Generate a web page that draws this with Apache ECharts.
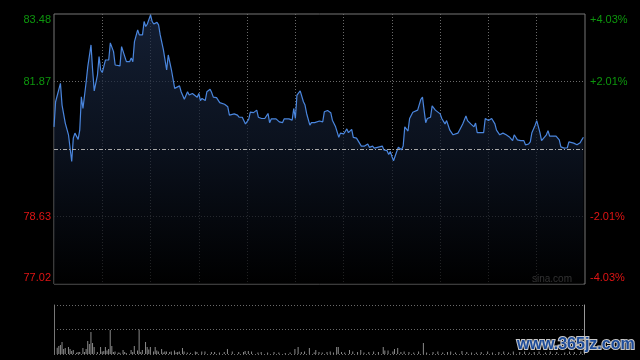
<!DOCTYPE html>
<html><head><meta charset="utf-8">
<script src="https://cdn.jsdelivr.net/npm/echarts@6/dist/echarts.min.js"></script>
<style>html,body{margin:0;padding:0;background:#000;}#c{width:640px;height:360px;}</style>
</head><body><div id="c"></div>
<script>
// minute of the trading session (0..330) and price
const minutes = [
0,1,2,4,5,7,8,9,11,12,
13,15,16,17,18,20,21,23,24,25,
27,28,29,30,32,34,35,37,38,39,
41,42,44,45,47,48,49,50,51,52,
53,55,56,57,58,60,61,62,64,65,
66,68,70,71,73,75,76,78,79,81,
83,84,86,87,89,90,91,92,94,95,
97,98,99,101,103,104,106,108,109,110,
112,114,115,117,119,121,122,124,126,127,
129,131,133,134,135,138,140,141,142,143,
146,148,149,150,151,152,153,155,156,157,
159,160,162,163,165,167,168,170,172,173,
175,177,178,180,182,183,185,186,188,191,
192,193,195,196,198,199,201,202,204,205,
207,208,209,210,211,212,213,214,216,217,
218,220,221,223,224,226,227,228,229,230,
231,232,234,235,237,238,240,241,243,244,
246,248,249,251,252,254,256,257,259,260,
261,262,263,265,267,268,270,271,272,274,
275,277,279,281,283,284,285,286,288,289,
290,292,293,295,296,297,299,300,301,302,
303,304,306,307,308,310,311,312,314,315,
317,319,320,321,323,324,325,327,328,329];
const prices = [
80.78,81.38,81.38,81.82,81.30,80.87,80.87,80.59,79.95,80.51,
80.63,80.48,80.70,81.50,81.22,81.86,82.22,82.74,82.14,81.64,
82.02,82.46,82.14,82.08,82.38,82.38,82.79,82.58,82.26,82.28,
82.24,82.70,82.46,82.34,82.34,82.43,82.34,82.82,82.78,83.10,
82.98,82.98,83.30,83.18,83.24,83.46,83.30,83.24,83.28,83.22,
82.98,82.62,82.14,82.50,82.14,81.70,81.74,81.76,81.62,81.44,
81.62,81.54,81.58,81.57,81.49,81.58,81.41,81.46,81.41,81.62,
81.68,81.60,81.49,81.48,81.36,81.36,81.32,81.26,81.06,81.04,
81.09,81.06,81.01,81.01,80.85,80.96,81.13,81.12,81.18,81.01,
80.98,80.98,81.10,80.88,80.97,80.97,80.90,80.93,80.88,80.97,
80.97,80.94,81.22,80.98,81.54,81.52,81.64,81.38,81.30,81.10,
80.82,80.88,80.88,80.84,80.92,80.90,81.14,81.17,81.12,80.94,
80.78,80.53,80.63,80.61,80.73,80.64,80.72,80.53,80.51,80.32,
80.29,80.32,80.37,80.29,80.32,80.27,80.29,80.27,80.32,80.23,
80.21,80.12,80.19,80.07,79.97,80.00,80.19,80.29,80.23,80.32,
80.78,80.68,80.98,81.13,81.14,81.18,81.22,81.44,81.49,81.18,
80.88,80.98,81.01,81.28,81.18,81.22,81.09,80.98,80.85,80.93,
80.70,80.59,80.63,80.63,80.70,80.85,81.04,80.93,80.85,80.88,
80.78,80.87,80.64,80.64,80.64,80.98,80.93,80.94,80.98,80.85,
80.70,80.59,80.63,80.59,80.54,80.51,80.45,80.59,80.47,80.48,
80.45,80.45,80.35,80.37,80.42,80.64,80.82,80.93,80.94,80.64,
80.45,80.44,80.59,80.69,80.56,80.56,80.53,80.56,80.47,80.30,
80.27,80.28,80.42,80.44,80.39,80.37,80.35,80.40,80.47,80.53];
const volMinutes = [
2,3,4,5,6,7,9,10,11,12,
14,15,16,18,19,20,21,22,23,24,
25,27,29,30,31,32,33,34,35,36,
37,38,40,41,43,44,45,48,49,50,
52,53,54,55,57,58,59,60,62,63,
64,65,67,68,69,70,72,73,75,76,
77,78,80,81,83,85,88,89,92,94,
98,100,103,106,108,111,115,118,119,121,
123,127,129,133,137,140,144,147,150,152,
154,156,159,162,163,165,167,170,172,174,
176,177,179,181,184,186,189,191,193,196,
199,202,205,206,208,211,212,214,216,218,
221,224,227,230,232,236,239,242,245,247,
250,254,257,260,263,266,270,273,277,280,
283,286,290,293,296,299,302,306,309,313,
318,321,324,328];
const volumes = [
26,33,37,49,20,24,29,20,12,16,
5,8,8,24,8,20,53,41,90,45,
29,8,29,10,12,29,14,20,98,33,
8,10,6,5,16,8,4,16,8,33,
14,100,8,16,49,29,18,29,10,29,
14,10,20,6,10,10,8,10,14,6,
8,10,24,10,6,5,10,8,10,10,
8,8,6,8,20,10,8,8,12,12,
10,6,8,6,8,6,4,6,20,29,
8,10,24,6,16,8,6,8,10,6,
29,29,8,6,16,10,8,16,6,8,
10,8,29,14,14,10,20,24,8,10,
8,6,10,45,6,8,10,6,8,10,
6,12,8,6,6,8,10,6,8,10,
6,10,8,10,6,8,10,6,10,8,
6,10,8,10];
const prevClose = 80.25;
const priceTicks = [77.02, 78.635, 80.25, 81.865, 83.48];
const priceLabels = ['77.02', '78.63', '80.25', '81.87', '83.48'];
const pctLabels = ['-4.03%', '-2.01%', '0.00%', '+2.01%', '+4.03%'];
const sessionMinutes = 330;
const volMax = 200;

const GREEN = '#0d960d', RED = '#e01414', GRID = '#6a6a6a';
const labelTicks = priceTicks.filter(v => v !== prevClose);
function idxOf(v) {
  let best = 0;
  priceTicks.forEach((t, i) => { if (Math.abs(t - v) < Math.abs(priceTicks[best] - v)) best = i; });
  return best;
}
function makeFormatter(labels) {
  return function (v) {
    const i = idxOf(v);
    const key = i === 0 ? 'rb' : (i === priceTicks.length - 1 ? 'gt' : (i < 2 ? 'r' : 'g'));
    return '{' + key + '|' + labels[i] + '}';
  };
}
const rich = {
  gt: { color: GREEN, padding: [12, 0, 0, 0], fontSize: 11, fontFamily: 'Liberation Sans' },
  g: { color: GREEN, fontSize: 11, fontFamily: 'Liberation Sans' },
  r: { color: RED, fontSize: 11, fontFamily: 'Liberation Sans' },
  rb: { color: RED, padding: [0, 0, 12, 0], fontSize: 11, fontFamily: 'Liberation Sans' }
};
const hColors = priceTicks.map(v => (v === priceTicks[0] || v === prevClose || v === priceTicks[priceTicks.length - 1]) ? 'rgba(0,0,0,0)' : GRID);
const vColors = [];
for (let m = 0; m <= sessionMinutes; m += 30) vColors.push((m === 0 || m === sessionMinutes) ? 'rgba(0,0,0,0)' : GRID);

const chart = echarts.init(document.getElementById('c'), null, { renderer: 'canvas' });
chart.setOption({
  backgroundColor: '#000',
  animation: false,
  grid: [
    { left: 54, right: 55, top: 14, bottom: 76, show: true, borderColor: '#777', borderWidth: 1, backgroundColor: 'rgba(0,0,0,0)' },
    { left: 54, right: 56, top: 305, bottom: 6 }
  ],
  xAxis: [
    { type: 'value', gridIndex: 0, min: 0, max: sessionMinutes, interval: 30,
      axisLine: { show: false }, axisTick: { show: false }, axisLabel: { show: false },
      splitLine: { show: true, lineStyle: { color: vColors, type: [1, 2], width: 1 } } },
    { type: 'value', gridIndex: 1, min: 0, max: sessionMinutes, interval: 30,
      axisLine: { show: false }, axisTick: { show: false }, axisLabel: { show: false }, splitLine: { show: false } }
  ],
  yAxis: [
    { type: 'value', gridIndex: 0, position: 'left', min: priceTicks[0], max: priceTicks[4],
      axisLine: { show: false },
      axisTick: { show: false, customValues: priceTicks },
      axisLabel: { customValues: labelTicks, margin: 3, formatter: makeFormatter(priceLabels), rich: rich, fontSize: 11 },
      splitLine: { show: true, lineStyle: { color: hColors, type: [1, 2], width: 1 } } },
    { type: 'value', gridIndex: 0, position: 'right', min: priceTicks[0], max: priceTicks[4],
      axisLine: { show: false },
      axisTick: { show: false, customValues: priceTicks },
      axisLabel: { customValues: labelTicks, margin: 5, formatter: makeFormatter(pctLabels), rich: rich, fontSize: 11 },
      splitLine: { show: false } },
    { type: 'value', gridIndex: 1, position: 'left', min: 0, max: volMax, interval: volMax / 2,
      axisLine: { show: true, lineStyle: { color: '#777' } }, axisTick: { show: false }, axisLabel: { show: false },
      splitLine: { show: true, lineStyle: { color: GRID, type: [1, 2] } } },
    { type: 'value', gridIndex: 1, position: 'right', min: 0, max: volMax, interval: volMax / 2,
      axisLine: { show: true, lineStyle: { color: '#999' } }, axisTick: { show: false }, axisLabel: { show: false },
      splitLine: { show: false } }
  ],
  series: [
    { type: 'line', xAxisIndex: 0, yAxisIndex: 0, showSymbol: false, clip: true,
      data: minutes.map((m, i) => [m, prices[i]]),
      lineStyle: { color: '#4a86de', width: 1.2 },
      areaStyle: { origin: 'start', color: new echarts.graphic.LinearGradient(0, 0, 0, 1, [
        { offset: 0, color: '#1c2b48' }, { offset: 0.5, color: '#0f1829' }, { offset: 1, color: '#000000' }]) },
      markLine: { silent: true, symbol: 'none', label: { show: false },
        lineStyle: { color: '#a8a8a8', type: [4, 2, 1, 2], width: 1 },
        data: [{ yAxis: prevClose }] } },
    { type: 'bar', xAxisIndex: 1, yAxisIndex: 2, barWidth: 1,
      itemStyle: { color: '#8a8a8a' },
      data: volMinutes.map((m, i) => [m, volumes[i]]) }
  ],
  graphic: [
    { type: 'text', left: 532, top: 274, silent: true,
      style: { text: 'sina.com', fill: '#a0a0a0', font: '10px "Liberation Sans"' } },
    { type: 'text', left: 516, top: 336, silent: true, z: 100,
      style: { text: 'www.365jz.com', fill: '#1d4c9a', stroke: '#c8c8c8', lineWidth: 2,
        font: 'bold 16px "Liberation Sans"' } }
  ]
});
</script>
</body></html>
